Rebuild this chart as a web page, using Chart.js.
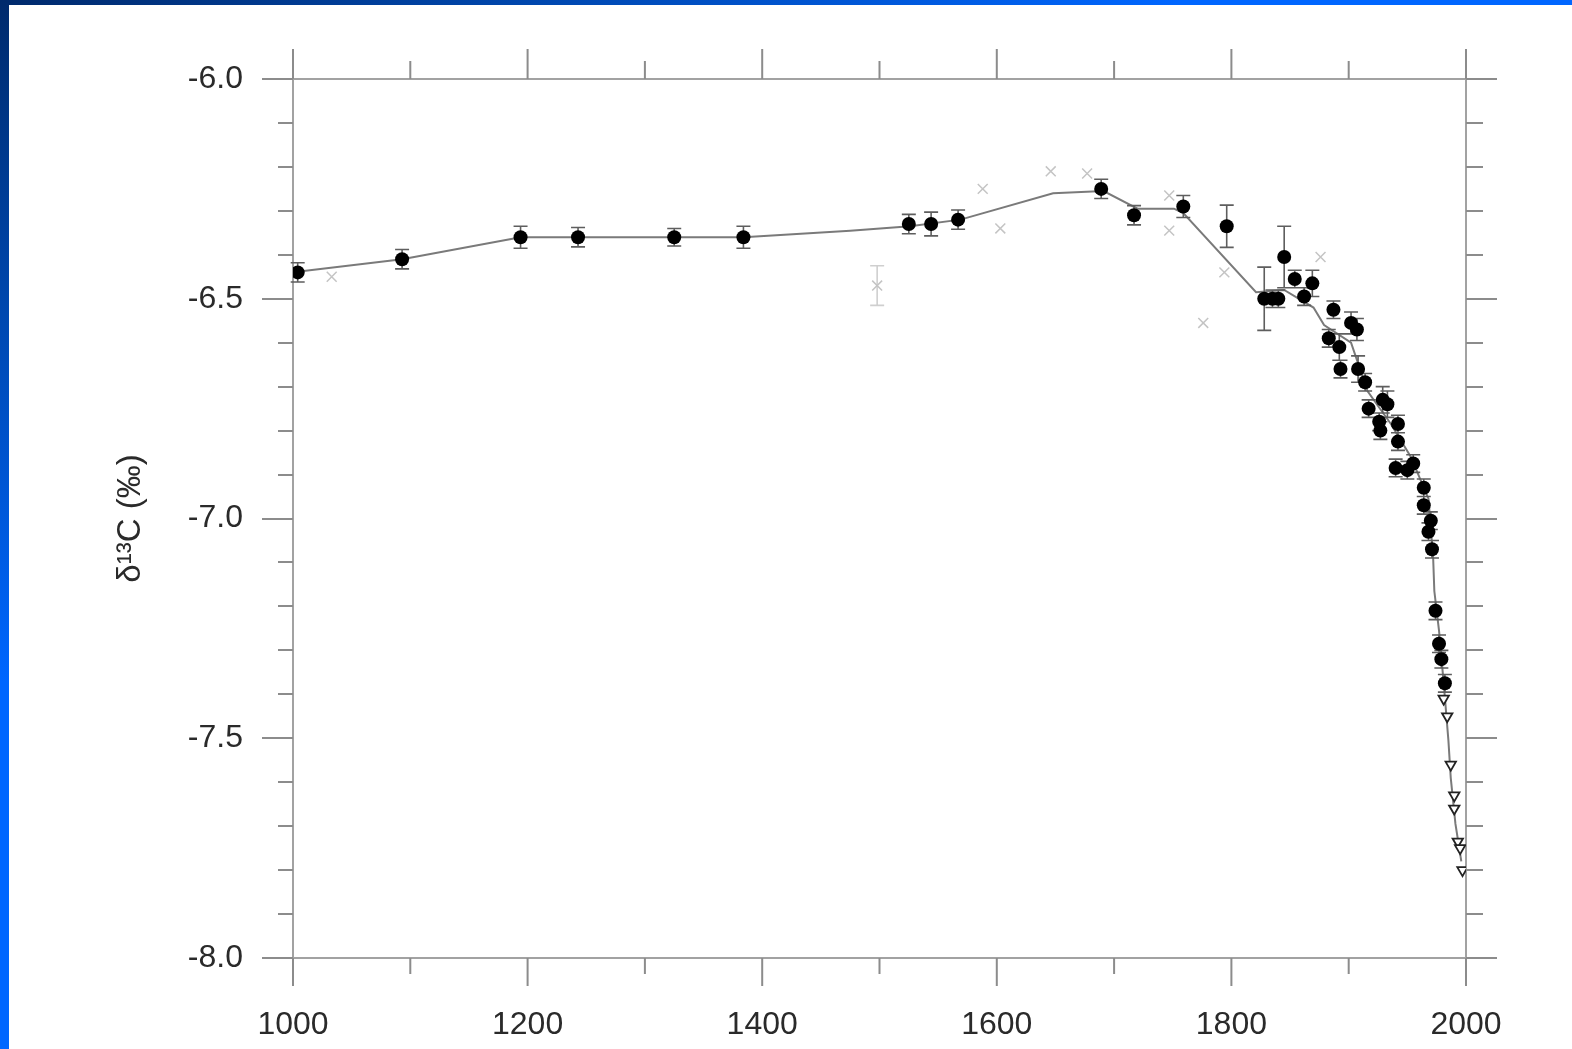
<!DOCTYPE html>
<html>
<head>
<meta charset="utf-8">
<title>δ13C record</title>
<script src="https://cdn.jsdelivr.net/npm/chart.js@4.4.1/dist/chart.umd.min.js"></script>
<style>
  html, body { margin: 0; padding: 0; background: #fff; overflow: hidden; }
  #wrap { position: relative; width: 1572px; height: 1049px; }
  #chart { position: absolute; left: 0; top: 0; }
  .bar-top { position: absolute; left: 0; top: 0; width: 1572px; height: 5px;
    background: linear-gradient(to right, #002a6c, #0048b0 35%, #0066ff 75%); }
  .bar-left { position: absolute; left: 0; top: 0; width: 9px; height: 1049px;
    background: linear-gradient(to bottom, #002a6c, #0048b0 30%, #0066ff 65%); }
</style>
</head>
<body>
<div id="wrap">
  <canvas id="chart" width="1572" height="1049"></canvas>
  <div class="bar-top"></div>
  <div class="bar-left"></div>
</div>
<script>
  /* axis ticks */
  var X_TICKS = [1000, 1200, 1400, 1600, 1800, 2000];
  var Y_TICKS = [-8.0, -7.5, -7.0, -6.5, -6.0];

  /* ice core samples (filled circles with error bars) */
  var coreYears = [1004, 1093, 1194, 1243, 1325, 1384, 1525, 1544, 1567, 1689, 1717, 1759, 1796,
    1828, 1835, 1840, 1845, 1854, 1862, 1869, 1883, 1887, 1892, 1893, 1902, 1907, 1908, 1914, 1917,
    1926, 1927, 1929, 1933, 1942, 1942, 1940, 1950, 1955, 1964, 1964, 1968, 1970, 1971,
    1974, 1977, 1979, 1982];
  var coreD13C = [-6.44, -6.41, -6.36, -6.36, -6.36, -6.36, -6.33, -6.33, -6.32, -6.25, -6.31, -6.29, -6.335,
    -6.50, -6.50, -6.50, -6.405, -6.455, -6.495, -6.465, -6.59, -6.525, -6.61, -6.66, -6.555, -6.57, -6.66, -6.69, -6.75,
    -6.78, -6.80, -6.73, -6.74, -6.785, -6.825, -6.885, -6.89, -6.875, -6.93, -6.97, -7.03, -7.005, -7.07,
    -7.21, -7.285, -7.32, -7.375];
  var coreErr = [0.022, 0.022, 0.025, 0.022, 0.02, 0.025, 0.022, 0.027, 0.022, 0.022, 0.022, 0.025, 0.048,
    0.072, 0.02, 0.02, 0.07, 0.02, 0.02, 0.03, 0.02, 0.02, 0.03, 0.02, 0.025, 0.025, 0.03, 0.02, 0.02,
    0.02, 0.02, 0.03, 0.03, 0.02, 0.02, 0.02, 0.02, 0.02, 0.02, 0.02, 0.02, 0.02, 0.02,
    0.02, 0.02, 0.02, 0.02];

  /* direct atmospheric measurements (open triangles) */
  var airYears = [1981, 1984, 1987, 1990, 1990, 1993, 1995, 1997];
  var airD13C = [-7.41, -7.45, -7.56, -7.63, -7.66, -7.735, -7.75, -7.80];

  /* second record (faint crosses) */
  var crossYears = [1033, 1498, 1588, 1603, 1646, 1677, 1747, 1747, 1776, 1794, 1876];
  var crossD13C = [-6.45, -6.47, -6.25, -6.34, -6.21, -6.215, -6.265, -6.345, -6.555, -6.44, -6.405];
  var crossErr = [0, 0.045, 0, 0, 0, 0, 0, 0, 0, 0, 0];

  /* smoothing spline */
  var fitYears = [1000, 1093, 1194, 1384, 1475, 1526, 1569, 1648, 1691, 1720, 1751, 1759, 1821, 1845, 1870,
    1879, 1902, 1916, 1936, 1953, 1968, 1972, 1973, 1977, 1981, 1985, 1987, 1991, 1996];
  var fitD13C = [-6.44, -6.41, -6.36, -6.36, -6.345, -6.335, -6.32, -6.26, -6.255, -6.295, -6.295, -6.305, -6.485, -6.48, -6.52,
    -6.56, -6.60, -6.71, -6.785, -6.86, -6.955, -7.09, -7.165, -7.255, -7.375, -7.505, -7.59, -7.695, -7.78];

  var AXIS = "#a2a2a2", TICK = "#8c8c8c", INK = "#2a2a2a";
  var FONT = "'Liberation Sans', Arial, sans-serif";

  function pts(xs, ys) {
    return xs.map(function (x, i) { return { x: x, y: ys[i] }; });
  }

  /* axes box with outward ticks, like the original plot */
  var frame = {
    id: "frame",
    beforeDatasetsDraw: function (chart) {
      var a = chart.chartArea, sx = chart.scales.x, sy = chart.scales.y, ctx = chart.ctx;
      ctx.save();
      ctx.strokeStyle = AXIS;
      ctx.lineWidth = 2;
      ctx.beginPath();
      ctx.moveTo(a.left, a.top); ctx.lineTo(a.right, a.top);
      ctx.moveTo(a.left, a.bottom); ctx.lineTo(a.right, a.bottom);
      ctx.moveTo(a.left, a.top); ctx.lineTo(a.left, a.bottom);
      ctx.moveTo(a.right, a.top); ctx.lineTo(a.right, a.bottom);
      ctx.stroke();

      ctx.strokeStyle = TICK;
      ctx.beginPath();
      for (var yr = 1000; yr <= 2000; yr += 100) {
        var px = sx.getPixelForValue(yr), major = yr % 200 === 0;
        ctx.moveTo(px, a.top); ctx.lineTo(px, a.top - (major ? 30 : 18));
        ctx.moveTo(px, a.bottom); ctx.lineTo(px, a.bottom + (major ? 28 : 16));
      }
      for (var k = 0; k <= 20; k++) {
        var v = -6 - k * 0.1, py = Math.round(sy.getPixelForValue(v)), big = k % 5 === 0;
        ctx.moveTo(a.left, py); ctx.lineTo(a.left - (big ? 31 : 15), py);
        ctx.moveTo(a.right, py); ctx.lineTo(a.right + (big ? 31 : 17), py);
      }
      ctx.stroke();
      ctx.restore();
    },
    beforeDatasetDraw: function (chart, args) {
      var ds = chart.data.datasets[args.index];
      if (!ds.err) return;
      var sx = chart.scales.x, sy = chart.scales.y, ctx = chart.ctx;
      ctx.save();
      ctx.strokeStyle = ds.errColor;
      ctx.lineWidth = 1.6;
      ctx.beginPath();
      ds.data.forEach(function (p, i) {
        var e = ds.err[i];
        if (!e) return;
        var px = sx.getPixelForValue(p.x);
        var t = sy.getPixelForValue(p.y + e), b = sy.getPixelForValue(p.y - e);
        ctx.moveTo(px, t); ctx.lineTo(px, b);
        ctx.moveTo(px - 7, t); ctx.lineTo(px + 7, t);
        ctx.moveTo(px - 7, b); ctx.lineTo(px + 7, b);
      });
      ctx.stroke();
      ctx.restore();
    }
  };

  new Chart(document.getElementById("chart"), {
    type: "scatter",
    data: {
      datasets: [
        {
          label: "ice core",
          data: pts(coreYears, coreD13C),
          err: coreErr, errColor: "#5e5e5e",
          pointStyle: "circle", pointRadius: 7,
          backgroundColor: "#000", borderColor: "#000", borderWidth: 0
        },
        {
          label: "atmosphere",
          data: pts(airYears, airD13C),
          pointStyle: "triangle", rotation: 180, pointRadius: 6,
          backgroundColor: "#fff", borderColor: "#222", borderWidth: 1.8
        },
        {
          label: "spline",
          data: pts(fitYears, fitD13C),
          showLine: true, pointRadius: 0,
          borderColor: "#7a7a7a", borderWidth: 2,
          tension: 0
        },
        {
          label: "second record",
          data: pts(crossYears, crossD13C),
          err: crossErr, errColor: "#cfcfcf",
          pointStyle: "crossRot", pointRadius: 7,
          borderColor: "#c4c4c4", borderWidth: 1.5
        }
      ]
    },
    options: {
      responsive: false,
      animation: false,
      devicePixelRatio: 1,
      layout: { padding: { left: 0, top: 79, right: 106, bottom: 0 } },
      plugins: { legend: { display: false }, tooltip: { enabled: false } },
      scales: {
        x: {
          type: "linear", min: 1000, max: 2000,
          afterBuildTicks: function (s) { s.ticks = X_TICKS.map(function (v) { return { value: v }; }); },
          afterFit: function (s) { s.height = 1049 - 958; },
          grid: { display: false, drawTicks: false },
          border: { display: false },
          ticks: {
            padding: 48, color: INK, maxRotation: 0,
            font: { family: FONT, size: 32 },
            callback: function (v) { return String(v); }
          }
        },
        y: {
          type: "linear", min: -8, max: -6,
          afterBuildTicks: function (s) { s.ticks = Y_TICKS.map(function (v) { return { value: v }; }); },
          afterFit: function (s) { s.width = 293; },
          grid: { display: false, drawTicks: false },
          border: { display: false },
          ticks: {
            padding: 50, color: INK,
            font: { family: FONT, size: 32 },
            callback: function (v) { return v.toFixed(1); }
          },
          title: {
            display: true, text: "δ¹³C (‰)", color: INK,
            padding: { top: 111, bottom: 0 },
            font: { family: FONT, size: 33 }
          }
        }
      }
    },
    plugins: [frame]
  });
</script>
</body>
</html>
